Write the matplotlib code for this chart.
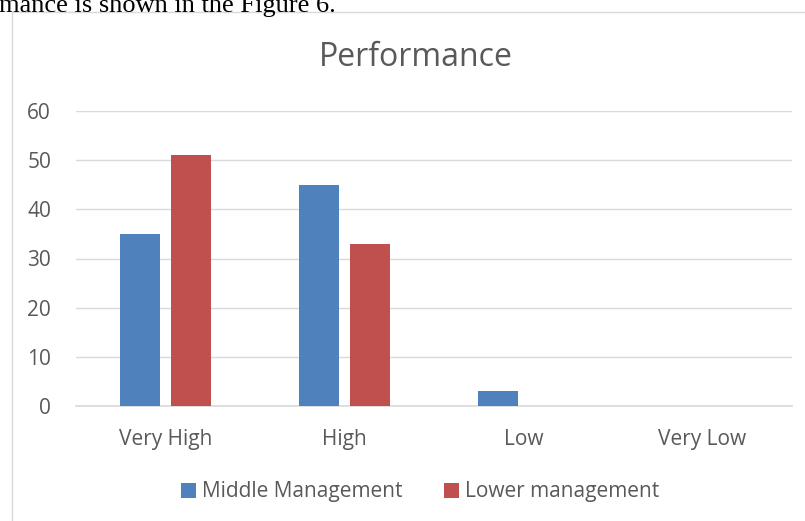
import matplotlib
matplotlib.use("Agg")
import matplotlib.pyplot as plt
from matplotlib.lines import Line2D
from matplotlib.patches import Patch
import numpy as np

categories = ["Very High", "High", "Low", "Very Low"]
middle = [35, 45, 3, 0]
lower = [51, 33, 0, 0]
series_names = ["Middle Management", "Lower management"]
yticks = [0, 10, 20, 30, 40, 50, 60]

W, H = 805, 521
fig = plt.figure(figsize=(W / 100, H / 100), dpi=100)
fig.patch.set_facecolor("white")

def fx(px):
    return px / W

def fy(py):
    return 1 - py / H

# clipped caption text from surrounding document
fig.text(fx(-1), fy(12), "mance is shown in the Figure 6.", family="Liberation Serif",
         fontsize=19, color="black", ha="left", va="baseline")

# chart area border
fig.add_artist(Line2D([fx(12), fx(12)], [fy(12), fy(H + 5)], color="#d9d9d9", lw=1.0,
                      transform=fig.transFigure))
fig.add_artist(Line2D([fx(12), fx(W + 5)], [fy(12), fy(12)], color="#d9d9d9", lw=1.0,
                      transform=fig.transFigure))

ax = fig.add_axes([fx(76), fy(406), fx(792) - fx(76), (406 - 111) / H])
x = np.arange(len(categories))
bw = 0.223
off = 0.1425
blue = "#4f81bd"
red = "#c0504d"
ax.bar(x - off, middle, bw, color=blue, zorder=3)
ax.bar(x + off, lower, bw, color=red, zorder=3)

ax.set_xlim(-0.5, len(categories) - 0.5)
ax.set_ylim(0, 60)
ax.set_yticks(yticks)
ax.set_yticklabels([str(v) for v in yticks])
ax.set_xticks(x)
ax.set_xticklabels(categories)
ax.grid(axis="y", color="#d9d9d9", lw=1.0, zorder=0)
for s in ["top", "right", "left"]:
    ax.spines[s].set_visible(False)
ax.spines["bottom"].set_color("#d9d9d9")
ax.spines["bottom"].set_linewidth(1.2)
ax.tick_params(axis="both", length=0, labelcolor="#595959", labelsize=15)
ax.tick_params(axis="y", pad=18)
ax.tick_params(axis="x", pad=16.5)
for lab in ax.get_xticklabels() + ax.get_yticklabels():
    lab.set_family("Open Sans")
ax.set_facecolor("white")

fig.text(fx(416), fy(57), "Performance", family="Open Sans", fontsize=23,
         color="#595959", ha="center", va="center")

handles = [Patch(facecolor=blue), Patch(facecolor=red)]
leg = fig.legend(handles, series_names, loc="center", bbox_to_anchor=(fx(420), fy(492)),
                 ncol=2, frameon=False, prop={"family": "Open Sans", "size": 15},
                 handlelength=0.7, handleheight=0.7, handletextpad=0.3, columnspacing=2.0)
for t in leg.get_texts():
    t.set_color("#595959")

fig.savefig("out.png", dpi=100, facecolor="white")
